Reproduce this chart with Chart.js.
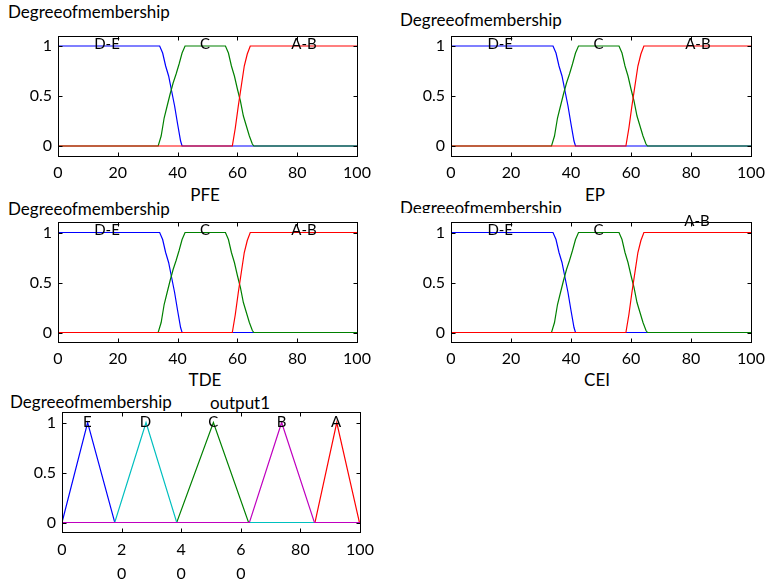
<!DOCTYPE html>
<html>
<head>
<meta charset="utf-8">
<script src="https://cdn.jsdelivr.net/npm/chart.js@4/dist/chart.umd.min.js"></script>
<style>
  body { margin: 0; background: #fff; }
  #page { position: relative; width: 772px; height: 582px; overflow: hidden; font-family: Lato, "Open Sans", sans-serif; color: #000; }
  canvas { position: absolute; }
  .txt { position: absolute; white-space: nowrap; font-size: 17px; line-height: 17px; }
  .mid { transform: translateX(-50%); }
  .clip { position: absolute; overflow: hidden; }
</style>
</head>
<body>
<div id="page">
  <div class="txt" style="left:8px;top:3px">Degreeofmembership</div>
  <div class="txt" style="left:400px;top:11px">Degreeofmembership</div>
  <div class="txt" style="left:8px;top:200px">Degreeofmembership</div>
  <div class="clip" style="left:400px;top:197px;width:200px;height:16px"><div class="txt" style="left:0;top:2px">Degreeofmembership</div></div>
  <div class="txt" style="left:10px;top:393px">Degreeofmembership</div>
  <div class="txt mid" style="left:240px;top:394px">output1</div>
  <div class="txt mid" style="left:205px;top:186px">PFE</div>
  <div class="txt mid" style="left:595px;top:186px">EP</div>
  <div class="txt mid" style="left:205px;top:371px">TDE</div>
  <div class="txt mid" style="left:597px;top:371px">CEI</div>
</div>
<script>
// input membership functions (same for PFE, EP, TDE, CEI)
const deX = [0, 34, 35, 36, 37, 38, 39, 40, 41, 41.5, 100];
const deY = [1, 1, 0.93, 0.8, 0.7, 0.55, 0.4, 0.22, 0.05, 0, 0];
const cX = [0, 33.5, 34.5, 35.5, 36.5, 37.5, 38.5, 39.5, 40.5, 41.5, 42.5, 56, 57, 58, 59, 60, 61, 62, 63, 64, 65, 65.5, 100];
const cY = [0, 0, 0.1, 0.28, 0.4, 0.52, 0.63, 0.72, 0.82, 0.93, 1, 1, 0.93, 0.8, 0.7, 0.57, 0.45, 0.3, 0.2, 0.1, 0.02, 0, 0];
const abX = [0, 58.3, 59.3, 60.3, 61.3, 62.3, 63.3, 64.3, 100];
const abY = [0, 0, 0.18, 0.4, 0.6, 0.8, 0.92, 1, 1];

// output1 membership functions
const eX = [0, 8.6, 17.7, 100];
const eY = [0, 1, 0, 0];
const dX = [0, 17.7, 28.2, 38.5, 100];
const dY = [0, 0, 1, 0, 0];
const oCX = [0, 38.5, 50.8, 62.6, 100];
const oCY = [0, 0, 1, 0, 0];
const bX = [0, 62.9, 73.7, 84.7, 100];
const bY = [0, 0, 1, 0, 0];
const aX = [0, 84.9, 92.2, 99.8, 100];
const aY = [0, 0, 1, 0, 0];

const xTicks = [0, 20, 40, 60, 80, 100];
const yTicks = [0, 0.5, 1];
const outTickLabels = [['0'], ['2', '0'], ['4', '0'], ['6', '0'], ['80'], ['100']];

const blue = '#0000ff', green = '#008000', red = '#ff0000', cyan = '#00bfbf', magenta = '#bf00bf';
const fontFam = 'Lato, "Open Sans", sans-serif';

const pts = (xs, ys) => xs.map((x, i) => ({ x, y: ys[i] }));
const line = (xs, ys, color) => ({
  data: pts(xs, ys), borderColor: color, borderWidth: 1.2,
  pointRadius: 0, tension: 0, fill: false
});

// no automatic label padding: the chart area is placed by hand
const noPad = s => { s.paddingTop = 0; s.paddingBottom = 0; s.paddingLeft = 0; s.paddingRight = 0; };

// box, inward ticks and mf names
const mfBox = {
  id: 'mfbox',
  afterDatasetsDraw(chart, args, opts) {
    const { ctx, chartArea: a, scales } = chart;
    const l = Math.floor(a.left) + 0.5, r = Math.floor(a.right) + 0.5;
    const t = Math.floor(a.top) + 0.5, b = Math.floor(a.bottom) + 0.5;
    ctx.save();
    ctx.strokeStyle = '#000';
    ctx.lineWidth = 1;
    ctx.strokeRect(l, t, r - l, b - t);
    ctx.beginPath();
    xTicks.slice(1, -1).forEach(v => {
      const px = Math.round(scales.x.getPixelForValue(v)) + 0.5;
      ctx.moveTo(px, b); ctx.lineTo(px, b - 4);
      ctx.moveTo(px, t); ctx.lineTo(px, t + 4);
    });
    yTicks.forEach(v => {
      const py = Math.round(scales.y.getPixelForValue(v)) + 0.5;
      ctx.moveTo(l, py); ctx.lineTo(l + 4, py);
      ctx.moveTo(r, py); ctx.lineTo(r - 4, py);
    });
    ctx.stroke();
    ctx.fillStyle = '#000';
    ctx.font = '15px ' + fontFam;
    ctx.textAlign = 'center';
    ctx.textBaseline = 'middle';
    (opts.labels || []).forEach(([txt, x, y]) => {
      ctx.fillText(txt, scales.x.getPixelForValue(x), scales.y.getPixelForValue(y));
    });
    ctx.restore();
  }
};

function makePanel(p) {
  const cv = document.createElement('canvas');
  cv.width = p.w; cv.height = p.h;
  cv.style.left = p.left + 'px';
  cv.style.top = p.top + 'px';
  document.getElementById('page').appendChild(cv);
  new Chart(cv, {
    type: 'line',
    data: { datasets: p.datasets },
    options: {
      responsive: false,
      animation: false,
      events: [],
      layout: { padding: { top: p.padTop, right: 16, left: 0, bottom: 0 } },
      plugins: { legend: { display: false }, tooltip: { enabled: false }, mfbox: { labels: p.labels } },
      scales: {
        x: {
          type: 'linear', min: 0, max: 100,
          grid: { display: false, drawTicks: false }, border: { display: false },
          afterBuildTicks: s => { s.ticks = xTicks.map(v => ({ value: v })); },
          afterFit: s => { s.height = p.xh; noPad(s); },
          ticks: {
            padding: p.xPad || 7, color: '#000', maxRotation: 0, autoSkip: false,
            font: { family: fontFam, size: 16, lineHeight: p.xLine || 1.2 }, callback: p.xLabel || (v => String(v))
          }
        },
        y: {
          type: 'linear', min: -0.1, max: 1.1,
          grid: { display: false, drawTicks: false }, border: { display: false },
          afterBuildTicks: s => { s.ticks = yTicks.map(v => ({ value: v })); },
          afterFit: s => { s.width = 40; noPad(s); },
          ticks: { padding: 6, color: '#000', font: { family: fontFam, size: 16 }, callback: v => String(v) }
        }
      }
    },
    plugins: [mfBox]
  });
}

const inputSets = () => [line(abX, abY, red), line(cX, cY, green), line(deX, deY, blue)];
const inLabels = [['D-E', 16.4, 1.02], ['C', 49.2, 1.02], ['A-B', 82.3, 1.02]];

makePanel({ left: 18, top: 26, w: 355, h: 160, padTop: 10, xh: 30, datasets: inputSets(), labels: inLabels });
makePanel({ left: 411, top: 26, w: 356, h: 160, padTop: 10, xh: 30, datasets: inputSets(), labels: inLabels });
makePanel({ left: 18, top: 212, w: 355, h: 161, padTop: 10.5, xh: 30.5, datasets: inputSets(), labels: inLabels });
makePanel({ left: 411, top: 212, w: 356, h: 161, padTop: 10.5, xh: 30.5, datasets: inputSets(),
  labels: [['D-E', 16.4, 1.02], ['C', 49.2, 1.02], ['A-B', 82, 1.11]] });
makePanel({
  left: 22, top: 402, w: 354, h: 180, padTop: 10.5, xh: 49.5, xPad: 5, xLine: 1.5,
  datasets: [line(bX, bY, magenta), line(dX, dY, cyan), line(eX, eY, blue), line(oCX, oCY, green), line(aX, aY, red)],
  labels: [['E', 8.5, 1.0], ['D', 28, 1.0], ['C', 50.8, 1.0], ['B', 73.7, 1.0], ['A', 92, 1.0]],
  xLabel: (v, i) => outTickLabels[i]
});
</script>
</body>
</html>
